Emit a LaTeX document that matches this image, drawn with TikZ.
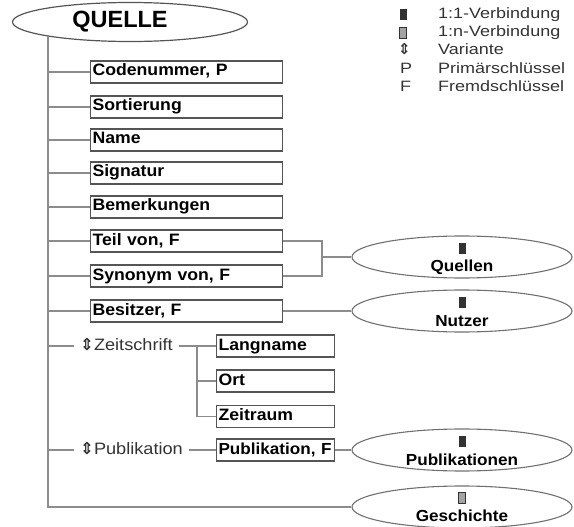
\documentclass[tikz,border=0pt]{standalone}
\usepackage{fontspec}
\setmainfont{Liberation Sans}
\newfontfamily\boxfont[FakeStretch=1.07]{Liberation Sans}
\newfontfamily\varfont[FakeStretch=1.1]{Liberation Sans}
\newfontfamily\legfont[FakeStretch=1.2]{Liberation Sans}
\newfontfamily\symfont{DejaVu Sans}
\usetikzlibrary{positioning,shapes.geometric}
\definecolor{linegray}{RGB}{140,140,140}
\definecolor{boxgray}{RGB}{85,85,85}
\definecolor{icongray}{RGB}{50,50,50}

\begin{document}
\begin{tikzpicture}[x=1pt,y=-1pt,
    attr/.style={rectangle,draw=boxgray,line width=1.1pt,anchor=west,
                 text width=#1,inner xsep=2pt,inner ysep=3pt,
                 text height=12pt,text depth=4pt,align=left,
                 font=\boxfont\bfseries\fontsize{16.5}{18}\selectfont},
    attr/.default=188pt,
    ent/.style={ellipse,draw=linegray!80!black,line width=1.1pt,
                minimum width=220pt,minimum height=42pt,inner sep=0pt},
    entname/.style={inner sep=0pt,
                 font=\boxfont\bfseries\fontsize{16}{18}\selectfont},
    one/.style={rectangle,fill=icongray,minimum width=7pt,
                minimum height=11pt,inner sep=0pt},
    many/.style={rectangle,draw=icongray,fill=icongray!45,line width=1.4pt,
                 minimum width=7pt,minimum height=11pt,inner sep=0pt},
    var/.style={anchor=west,inner xsep=6pt,inner ysep=0pt,text=black!80,
                text height=12pt,text depth=4pt,
                font=\varfont\fontsize{16.5}{18}\selectfont},
    leg/.style={anchor=west,inner sep=0pt,text=black!80,
                text height=11pt,text depth=3pt,
                font=\legfont\fontsize{15}{17}\selectfont},
    conn/.style={draw=linegray,line width=1.2pt}]
  \useasboundingbox (0,0) rectangle (574,527);

  % main entity
  \node[ellipse,draw=boxgray,line width=1.2pt,minimum width=235pt,
        minimum height=39pt,inner sep=0pt,
        font=\bfseries\fontsize{23.5}{26}\selectfont]
        (quelle) at (130,22) {QUELLE\hspace*{20pt}};
  \coordinate (top) at (quelle.190);

  % attributes
  \node[attr] (code) at (90,72)  {Codenummer, P};
  \node[attr] (sort) at (90,107) {Sortierung};
  \node[attr] (name) at (90,140) {Name};
  \node[attr] (sig)  at (90,173) {Signatur};
  \node[attr] (bem)  at (90,207) {Bemerkungen};
  \node[attr] (teil) at (90,241) {Teil von, F};
  \node[attr] (syn)  at (90,276) {Synonym von, F};
  \node[attr] (bes)  at (90,311) {Besitzer, F};

  % variants
  \node[var] (zs) at (74,346) {{\symfont\bfseries ⇕}Zeitschrift};
  \node[attr=114pt] (lang)     at (216,346)   {Langname};
  \node[attr=114pt] (ort)      at (216,381)   {Ort};
  \node[attr=114pt] (zeitraum) at (216,416.5) {Zeitraum};
  \node[var] (pv) at (74,450) {{\symfont\bfseries ⇕}Publikation};
  \node[attr=114pt] (publ)     at (216,450)
        {\mbox{\fontsize{16}{18}\selectfont Publikation, F}};

  % related entities
  \node[ent] (quellen) at (462,257) {};
  \node[one] (quellenI) at ([yshift=9pt]quellen.center) {};
  \node[entname] (quellenL) at ([yshift=-10pt]quellen.center) {Quellen};
  \node[ent] (nutzer) at (462,311) {};
  \node[one] (nutzerI) at ([yshift=9pt]nutzer.center) {};
  \node[entname] (nutzerL) at ([yshift=-10pt]nutzer.center) {Nutzer};
  \node[ent] (publen) at (462,450) {};
  \node[one] (publenI) at ([yshift=9pt]publen.center) {};
  \node[entname] (publenL) at ([yshift=-10pt]publen.center) {Publikationen};
  \node[ent] (gesch) at (462,507) {};
  \node[many] (geschI) at ([yshift=9pt]gesch.center) {};
  \node[entname] (geschL) at ([yshift=-9pt]gesch.center) {Geschichte};

  % legend
  \node[one] (l1s) at (403,15) {};
  \node[leg] (l1)  at (438,15) {1:1-Verbindung};
  \node[many] (l2s) at (403,33) {};
  \node[leg] (l2)  at (438,33) {1:n-Verbindung};
  \node[leg] (l3s) at (398,51) {{\symfont\bfseries ⇕}};
  \node[leg] (l3)  at (438,51) {Variante};
  \node[leg] (l4s) at (400,70) {P};
  \node[leg] (l4)  at (438,70) {Primärschlüssel};
  \node[leg] (l5s) at (400,88) {F};
  \node[leg] (l5)  at (438,88) {Fremdschlüssel};

  % connectors
  \draw[conn] (top) |- (gesch.west);
  \draw[conn] (top |- code.west) -- (code.west);
  \draw[conn] (top |- sort.west) -- (sort.west);
  \draw[conn] (top |- name.west) -- (name.west);
  \draw[conn] (top |- sig.west) -- (sig.west);
  \draw[conn] (top |- bem.west) -- (bem.west);
  \draw[conn] (top |- teil.west) -- (teil.west);
  \draw[conn] (top |- syn.west) -- (syn.west);
  \draw[conn] (top |- bes.west) -- (bes.west);
  \draw[conn] (top |- zs.west) -- (zs.west);
  \draw[conn] (top |- pv.west) -- (pv.west);
  \coordinate (qjoin) at (322,257);
  \draw[conn] (teil.east) -| (qjoin) |- (syn.east);
  \draw[conn] (qjoin) -- (quellen.west);
  \draw[conn] (bes.east) -- (nutzer.west);
  \coordinate (zjoin) at (197,346);
  \draw[conn] (zs.east) -- (lang.west);
  \draw[conn] (zjoin) |- (zeitraum.west);
  \draw[conn] (zjoin |- ort.west) -- (ort.west);
  \draw[conn] (pv.east) -- (publ.west);
  \draw[conn] (publ.east) -- (publen.west);
\end{tikzpicture}
\end{document}
